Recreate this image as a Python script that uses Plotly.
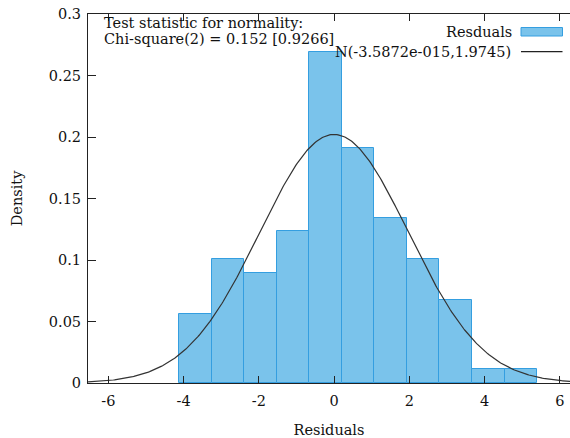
import numpy as np
import plotly.graph_objects as go

# Histogram data
bin_edges = [-4.12, -3.255, -2.39, -1.525, -0.66, 0.205, 1.07, 1.935, 2.80, 3.665, 4.53, 5.395]
densities = [0.0561, 0.1006, 0.0895, 0.1236, 0.2694, 0.1908, 0.1340, 0.1006, 0.0673, 0.0112, 0.0112]

# Normal distribution parameters (from legend)
norm_mean = -3.5872e-15
norm_sd = 1.9745

x_ticks = [-6, -4, -2, 0, 2, 4, 6]
y_ticks = [0, 0.05, 0.1, 0.15, 0.2, 0.25, 0.3]
y_tick_labels = ["0", "0.05", "0.1", "0.15", "0.2", "0.25", "0.3"]

x_range = [-6.54, 6.27]
y_range = [0, 0.3]

centers = [(a + b) / 2 for a, b in zip(bin_edges[:-1], bin_edges[1:])]
widths = [b - a for a, b in zip(bin_edges[:-1], bin_edges[1:])]

xs = np.linspace(x_range[0], x_range[1], 400)
ys = np.exp(-0.5 * ((xs - norm_mean) / norm_sd) ** 2) / (norm_sd * np.sqrt(2 * np.pi))

FONT = "DejaVu Serif"
W, H = 570, 438
ML, MT, MB, MR = 88, 14, 55, 0
PW, PH = W - ML - MR, H - MT - MB

def px(xp):
    return (xp - ML) / PW

def py(yp):
    return (H - MB - yp) / PH

fig = go.Figure()
fig.add_trace(go.Bar(
    x=centers, y=densities, width=widths,
    marker=dict(color="rgb(122,195,235)", line=dict(color="rgb(52,158,224)", width=1)),
    showlegend=False, hoverinfo="skip",
))
fig.add_trace(go.Scatter(
    x=xs, y=ys, mode="lines",
    line=dict(color="#333333", width=1.2),
    showlegend=False, hoverinfo="skip",
))

fig.update_layout(
    width=W, height=H,
    margin=dict(l=ML, r=MR, t=MT, b=MB, autoexpand=False),
    paper_bgcolor="white", plot_bgcolor="white",
    bargap=0,
    font=dict(family=FONT, size=14, color="#111111"),
    xaxis=dict(
        range=x_range, tickvals=x_ticks, ticktext=[str(v) for v in x_ticks],
        ticks="inside", ticklen=7, tickcolor="#222", showline=True, automargin=False,
        linecolor="#222", linewidth=1, mirror="ticks", showgrid=False, zeroline=False,
        ticklabelstandoff=5,
        title=dict(text="Residuals", font=dict(size=14.5), standoff=19),
        tickfont=dict(size=14.5),
    ),
    yaxis=dict(
        range=y_range, tickvals=y_ticks, ticktext=y_tick_labels, automargin=False,
        ticks="inside", ticklen=8, tickcolor="#222", showline=True,
        linecolor="#222", linewidth=1, showgrid=False, zeroline=False,
        ticklabelstandoff=3,
        title=dict(text="Density", font=dict(size=14.5), standoff=22),
        tickfont=dict(size=14.5),
    ),
)

# Test statistic text (two lines, tight spacing)
for txt, yc in [("Test statistic for normality:", 23.5), ("Chi-square(2) = 0.152 [0.9266]", 39)]:
    fig.add_annotation(
        x=px(103), y=py(yc), xref="paper", yref="paper", xanchor="left", yanchor="middle",
        text=txt, showarrow=False, align="left", font=dict(size=14.5), borderpad=0,
    )
# Legend (drawn manually, right-aligned text, key on the right)
fig.add_annotation(
    x=px(514), y=py(32), xref="paper", yref="paper", xanchor="right", yanchor="middle",
    text="Resduals", showarrow=False, font=dict(size=14.5),
)
fig.add_annotation(
    x=px(513), y=py(51.5), xref="paper", yref="paper", xanchor="right", yanchor="middle",
    text="N(-3.5872e-015,1.9745)", showarrow=False, font=dict(size=14.5),
)
fig.add_shape(type="rect", xref="paper", yref="paper",
              x0=px(521), x1=px(562.5), y0=py(36), y1=py(27.5),
              fillcolor="rgb(122,195,235)", line=dict(color="rgb(52,158,224)", width=1))
fig.add_shape(type="line", xref="paper", yref="paper",
              x0=px(521), x1=px(562.5), y0=py(51.7), y1=py(51.7),
              line=dict(color="#222", width=1.2))

fig.write_html("out.html", config={"displayModeBar": False},
               post_script="document.body.style.margin='0';")
